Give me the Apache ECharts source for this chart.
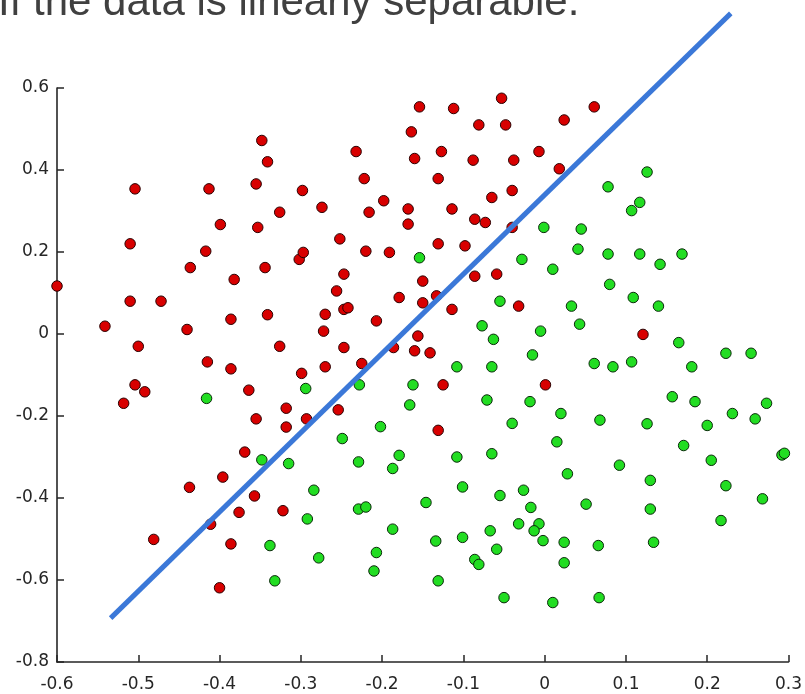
<!DOCTYPE html>
<html>
<head>
<meta charset="utf-8">
<script src="https://cdn.jsdelivr.net/npm/echarts@6/dist/echarts.min.js"></script>
<style>
html,body{margin:0;padding:0;background:#fff;}
#chart{width:805px;height:694px;}
</style>
</head>
<body>
<div id="chart"></div>
<script>
var titleText = "If the data is linearly separable.";

var xTicks = [-0.6, -0.5, -0.4, -0.3, -0.2, -0.1, 0, 0.1, 0.2, 0.3];
var xTickLabels = ["-0.6", "-0.5", "-0.4", "-0.3", "-0.2", "-0.1", "0", "0.1", "0.2", "0.3"];
var yTicks = [-0.8, -0.6, -0.4, -0.2, 0, 0.2, 0.4, 0.6];
var yTickLabels = ["-0.8", "-0.6", "-0.4", "-0.2", "0", "0.2", "0.4", "0.6"];

var redPoints = [
  [-0.600, 0.117], [-0.504, 0.354], [-0.510, 0.220], [-0.510, 0.080], [-0.472, 0.080],
  [-0.541, 0.019], [-0.500, -0.030], [-0.440, 0.011], [-0.436, 0.162], [-0.417, 0.202],
  [-0.413, 0.354], [-0.399, 0.267], [-0.382, 0.133], [-0.386, 0.036], [-0.415, -0.068],
  [-0.386, -0.085], [-0.348, 0.472], [-0.341, 0.420], [-0.355, 0.366], [-0.353, 0.260],
  [-0.326, 0.297], [-0.344, 0.162], [-0.341, 0.047], [-0.326, -0.030], [-0.302, 0.182],
  [-0.298, 0.350], [-0.154, 0.554], [-0.112, 0.550], [-0.053, 0.575], [-0.164, 0.493],
  [-0.081, 0.510], [-0.048, 0.510], [0.024, 0.522], [0.061, 0.554], [-0.232, 0.445],
  [-0.160, 0.428], [-0.127, 0.445], [-0.088, 0.424], [-0.038, 0.424], [-0.007, 0.445],
  [0.018, 0.403], [-0.222, 0.379], [-0.131, 0.379], [-0.065, 0.333], [-0.040, 0.350],
  [-0.274, 0.309], [-0.198, 0.325], [-0.216, 0.297], [-0.168, 0.305], [-0.114, 0.305],
  [-0.168, 0.268], [-0.086, 0.280], [-0.073, 0.272], [-0.040, 0.260], [-0.252, 0.232],
  [-0.297, 0.199], [-0.220, 0.202], [-0.191, 0.199], [-0.131, 0.220], [-0.098, 0.215],
  [-0.247, 0.146], [-0.086, 0.141], [-0.059, 0.146], [-0.256, 0.105], [-0.179, 0.089],
  [-0.150, 0.129], [-0.150, 0.076], [-0.133, 0.093], [-0.114, 0.060], [-0.032, 0.068],
  [-0.247, 0.060], [-0.242, 0.064], [-0.270, 0.048], [-0.272, 0.007], [-0.207, 0.032],
  [-0.247, -0.033], [-0.156, -0.005], [-0.186, -0.033], [-0.160, -0.041], [-0.141, -0.046],
  [-0.270, -0.080], [-0.225, -0.072], [-0.299, -0.096], [0.121, -0.001], [-0.504, -0.124],
  [-0.492, -0.141], [-0.518, -0.169], [-0.364, -0.137], [-0.318, -0.181], [-0.355, -0.207],
  [-0.318, -0.227], [-0.369, -0.288], [-0.396, -0.349], [-0.437, -0.374], [-0.357, -0.395],
  [-0.376, -0.435], [-0.322, -0.431], [-0.411, -0.464], [-0.481, -0.501], [-0.386, -0.512],
  [-0.400, -0.619], [-0.293, -0.207], [-0.254, -0.185], [-0.125, -0.124], [0.001, -0.124],
  [-0.131, -0.235]
];

var greenPoints = [
  [-0.001, 0.260], [0.045, 0.256], [0.041, 0.207], [-0.028, 0.182], [0.010, 0.158],
  [-0.154, 0.186], [-0.055, 0.080], [0.033, 0.068], [0.043, 0.024], [-0.005, 0.007],
  [-0.077, 0.020], [-0.063, -0.013], [-0.015, -0.051], [0.061, -0.072], [-0.108, -0.080],
  [-0.065, -0.080], [0.126, 0.395], [0.078, 0.359], [0.117, 0.321], [0.107, 0.301],
  [0.078, 0.195], [0.117, 0.195], [0.169, 0.195], [0.142, 0.170], [0.080, 0.121],
  [0.109, 0.089], [0.140, 0.068], [0.165, -0.021], [0.223, -0.047], [0.254, -0.047],
  [0.084, -0.080], [0.107, -0.068], [0.181, -0.080], [-0.416, -0.157], [-0.348, -0.307],
  [-0.315, -0.316], [-0.338, -0.516], [-0.332, -0.602], [-0.294, -0.133], [-0.228, -0.124],
  [-0.162, -0.124], [-0.166, -0.173], [-0.071, -0.161], [-0.018, -0.165], [0.020, -0.194],
  [0.068, -0.210], [-0.202, -0.226], [-0.040, -0.218], [-0.249, -0.255], [0.015, -0.263],
  [-0.229, -0.312], [-0.179, -0.296], [-0.187, -0.328], [-0.108, -0.300], [-0.065, -0.292],
  [0.028, -0.341], [-0.284, -0.381], [-0.101, -0.373], [-0.026, -0.381], [-0.055, -0.394],
  [-0.146, -0.411], [-0.017, -0.423], [0.051, -0.415], [-0.229, -0.427], [-0.220, -0.422],
  [-0.292, -0.451], [-0.187, -0.476], [-0.067, -0.480], [-0.032, -0.463], [-0.007, -0.463],
  [-0.013, -0.480], [-0.134, -0.505], [-0.101, -0.496], [-0.002, -0.504], [0.024, -0.508],
  [0.066, -0.516], [-0.278, -0.546], [-0.207, -0.533], [-0.059, -0.525], [-0.086, -0.550],
  [-0.081, -0.562], [0.024, -0.558], [-0.210, -0.578], [-0.131, -0.602], [-0.050, -0.643],
  [0.010, -0.655], [0.067, -0.643], [0.157, -0.153], [0.185, -0.165], [0.273, -0.169],
  [0.231, -0.194], [0.259, -0.207], [0.200, -0.223], [0.126, -0.219], [0.171, -0.272],
  [0.205, -0.308], [0.292, -0.295], [0.295, -0.291], [0.092, -0.320], [0.130, -0.357],
  [0.223, -0.370], [0.268, -0.402], [0.130, -0.427], [0.217, -0.455], [0.134, -0.508]
];

var separatorLine = [[-0.534, -0.693], [0.229, 0.782]];

function tickLabel(ticks, labels) {
  return function (v) {
    for (var i = 0; i < ticks.length; i++) {
      if (Math.abs(ticks[i] - v) < 1e-6) return labels[i];
    }
    return '';
  };
}

var chart = echarts.init(document.getElementById('chart'), null, {renderer: 'canvas'});
var axisCommon = {
  axisLine: {show: true, onZero: false, lineStyle: {color: '#262626', width: 1.6}},
  axisTick: {show: true, inside: true, length: 7, lineStyle: {color: '#262626', width: 1.5}},
  splitLine: {show: false},
  axisLabel: {color: '#262626', fontFamily: 'DejaVu Sans', fontSize: 17}
};
chart.setOption({
  animation: false,
  backgroundColor: '#ffffff',
  grid: {left: 57, right: 16, top: 88, bottom: 32, containLabel: false},
  graphic: [{
    type: 'text',
    left: -2,
    top: -18,
    style: {
      text: titleText,
      fill: '#404040',
      font: '42px "Liberation Sans", Arial, sans-serif'
    }
  }],
  xAxis: echarts.util.merge({
    type: 'value', min: -0.6, max: 0.3, interval: 0.1,
    axisLabel: {margin: 14, formatter: tickLabel(xTicks, xTickLabels), showMinLabel: true, showMaxLabel: true}
  }, axisCommon, false),
  yAxis: echarts.util.merge({
    type: 'value', min: -0.8, max: 0.6, interval: 0.2,
    axisLabel: {margin: 8, formatter: tickLabel(yTicks, yTickLabels), showMinLabel: true, showMaxLabel: true}
  }, axisCommon, false),
  series: [
    {
      type: 'scatter', name: 'class1', data: redPoints, symbol: 'circle', symbolSize: 10.5,
      itemStyle: {color: '#d80000', borderColor: '#2a0000', borderWidth: 1, opacity: 1},
      clip: false, z: 2
    },
    {
      type: 'scatter', name: 'class2', data: greenPoints, symbol: 'circle', symbolSize: 10.5,
      itemStyle: {color: '#22dd22', borderColor: '#0a2a0a', borderWidth: 1, opacity: 1},
      clip: false, z: 2
    },
    {
      type: 'line', name: 'boundary', data: separatorLine, symbol: 'none', clip: false,
      lineStyle: {color: '#3b78d8', width: 5, cap: 'butt'}, z: 5
    }
  ]
});
</script>
</body>
</html>
